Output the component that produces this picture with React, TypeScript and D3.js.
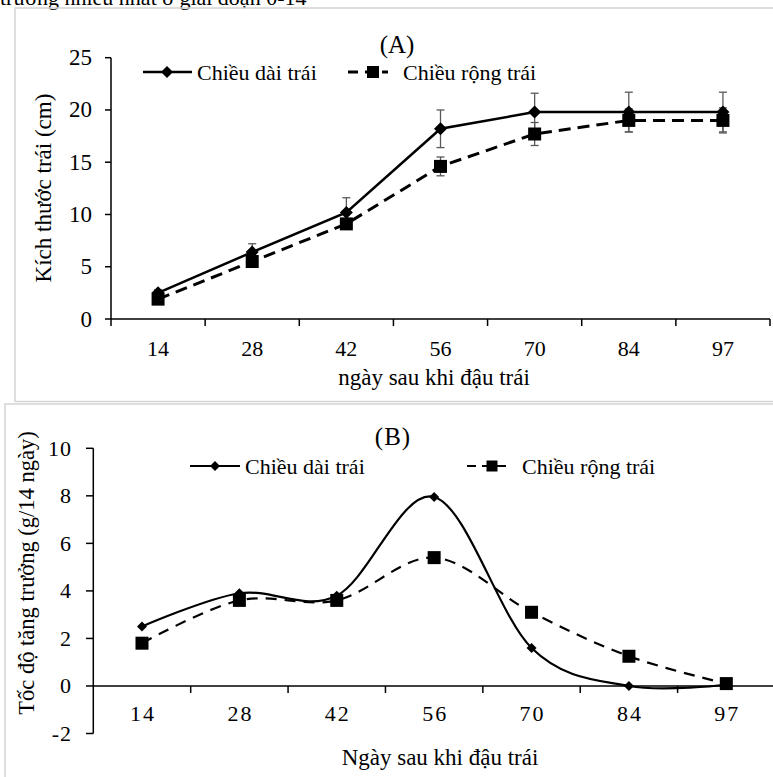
import * as d3 from "d3";

const days = ["14", "28", "42", "56", "70", "84", "97"];

// (A) fruit size, cm
const lengthA = [2.5, 6.4, 10.2, 18.2, 19.8, 19.8, 19.8];
const lengthErrA = [0.3, 0.8, 1.4, 1.8, 1.8, 1.9, 1.9];
const widthA = [1.9, 5.5, 9.1, 14.6, 17.7, 19.0, 19.0];
const widthErrA = [0.3, 0.5, 0.5, 0.9, 1.1, 1.1, 1.2];
const yTicksA = [0, 5, 10, 15, 20, 25];

// (B) growth rate
const lengthB = [2.5, 3.9, 3.8, 7.95, 1.6, 0.0, 0.05];
const widthB = [1.8, 3.6, 3.6, 5.4, 3.1, 1.25, 0.1];
const yTicksB = [-2, 0, 2, 4, 6, 8, 10];

const FONT = "'Liberation Serif', 'Times New Roman', serif";
const ERR = "#595959";

function Diamond({ x, y, r = 6 }: { x: number; y: number; r?: number }) {
  return <path d={`M${x},${y - r}L${x + r},${y}L${x},${y + r}L${x - r},${y}Z`} fill="#000" />;
}
function Square({ x, y, s = 12 }: { x: number; y: number; s?: number }) {
  return <rect x={x - s / 2} y={y - s / 2} width={s} height={s} fill="#000" />;
}

export default function App() {
  // ---- panel A
  const xA = d3.scaleBand().domain(days).range([111, 770]).padding(0);
  const yA = d3.scaleLinear().domain([0, 25]).range([319, 57.7]);
  const cxA = (d: string) => (xA(d) ?? 0) + xA.bandwidth() / 2;
  const lineA = d3
    .line<number>()
    .x((_, i) => cxA(days[i]))
    .y((v) => yA(v));

  // ---- panel B
  const xB = d3.scaleBand().domain(days).range([93.3, 775]).padding(0);
  const yB = d3.scaleLinear().domain([-2, 10]).range([733.5, 448.3]);
  const cxB = (d: string) => (xB(d) ?? 0) + xB.bandwidth() / 2;
  const lineB = d3
    .line<number>()
    .x((_, i) => cxB(days[i]))
    .y((v) => yB(v))
    .curve(d3.curveCatmullRom.alpha(0));

  const errBars = (vals: number[], errs: number[]) =>
    vals.map((v, i) => {
      const x = cxA(days[i]);
      const y1 = yA(v + errs[i]);
      const y2 = yA(v - errs[i]);
      return (
        <g key={i} stroke={ERR} strokeWidth={1.3}>
          <line x1={x} x2={x} y1={y1} y2={y2} />
          <line x1={x - 4} x2={x + 4} y1={y1} y2={y1} />
          <line x1={x - 4} x2={x + 4} y1={y2} y2={y2} />
        </g>
      );
    });

  return (
    <svg
      width={773}
      height={777}
      style={{ position: "absolute", left: 0, top: 0, display: "block", background: "#fff" }}
      fontFamily={FONT}
    >
      <text x={0} y={5} fontSize={22} fill="#000">
        trưởng nhiều nhất ở giai đoạn 0-14
      </text>

      {/* frames */}
      <rect x={15} y={8} width={770} height={393.5} fill="none" stroke="#d4d4d4" strokeWidth={1.5} />
      <rect x={5} y={404} width={780} height={390} fill="none" stroke="#d4d4d4" strokeWidth={1.5} />

      {/* ================= panel A ================= */}
      <text x={397} y={53} fontSize={25} textAnchor="middle">(A)</text>

      <g stroke="#000" strokeWidth={1.5}>
        <line x1={111} x2={111} y1={yA(25)} y2={yA(0)} />
        <line x1={111} x2={770} y1={yA(0)} y2={yA(0)} />
        {yTicksA.map((t) => (
          <line key={t} x1={105} x2={111} y1={yA(t)} y2={yA(t)} />
        ))}
        {days.map((d) => (
          <line key={d} x1={xA(d)! + xA.bandwidth()} x2={xA(d)! + xA.bandwidth()} y1={yA(0)} y2={yA(0) + 7} />
        ))}
        <line x1={111} x2={111} y1={yA(0)} y2={yA(0) + 7} />
      </g>
      {yTicksA.map((t) => (
        <text key={t} x={92} y={yA(t) + 7.5} fontSize={23} textAnchor="end">{t}</text>
      ))}
      {days.map((d) => (
        <text key={d} x={cxA(d)} y={356} fontSize={22} textAnchor="middle">{d}</text>
      ))}
      <text x={434} y={385} fontSize={23} textAnchor="middle">ngày sau khi đậu trái</text>
      <text transform="translate(51,188) rotate(-90)" fontSize={23} textAnchor="middle">
        Kích thước trái (cm)
      </text>

      {errBars(lengthA, lengthErrA)}
      {errBars(widthA, widthErrA)}
      <path d={lineA(widthA) ?? ""} fill="none" stroke="#000" strokeWidth={3} strokeDasharray="12,7" />
      <path d={lineA(lengthA) ?? ""} fill="none" stroke="#000" strokeWidth={2.5} />
      {widthA.map((v, i) => <Square key={i} x={cxA(days[i])} y={yA(v)} s={13} />)}
      {lengthA.map((v, i) => <Diamond key={i} x={cxA(days[i])} y={yA(v)} r={6.5} />)}

      {/* legend A */}
      <line x1={143} x2={192} y1={72} y2={72} stroke="#000" strokeWidth={2.5} />
      <Diamond x={167} y={72} r={6} />
      <text x={197} y={80} fontSize={22}>Chiều dài trái</text>
      <line x1={348} x2={388} y1={72} y2={72} stroke="#000" strokeWidth={3} strokeDasharray="10,7" />
      <Square x={373} y={72} s={12} />
      <text x={403} y={80} fontSize={22}>Chiều rộng trái</text>

      {/* ================= panel B ================= */}
      <text x={393} y={445} fontSize={25} textAnchor="middle" letterSpacing={1}>(B)</text>

      <g stroke="#000" strokeWidth={1.5}>
        <line x1={93.3} x2={93.3} y1={yB(10)} y2={yB(-2)} />
        <line x1={93.3} x2={775} y1={yB(0)} y2={yB(0)} />
        {yTicksB.map((t) => (
          <line key={t} x1={86} x2={93.3} y1={yB(t)} y2={yB(t)} />
        ))}
        {days.map((d) => (
          <line key={d} x1={xB(d)! + xB.bandwidth()} x2={xB(d)! + xB.bandwidth()} y1={yB(0)} y2={yB(0) + 7} />
        ))}
      </g>
      {yTicksB.map((t) => (
        <text key={t} x={72} y={yB(t) + 7.5} fontSize={22} textAnchor="end" letterSpacing={1}>{t}</text>
      ))}
      {days.map((d) => (
        <text key={d} x={cxB(d) + 1} y={721} fontSize={22} textAnchor="middle" letterSpacing={2}>{d}</text>
      ))}
      <text x={440} y={765} fontSize={23} textAnchor="middle">Ngày sau khi đậu trái</text>
      <text transform="translate(34,573) rotate(-90)" fontSize={22.5} textAnchor="middle">
        Tốc độ tăng trưởng (g/14 ngày)
      </text>

      <path d={lineB(widthB) ?? ""} fill="none" stroke="#000" strokeWidth={2.2} strokeDasharray="11,8" />
      <path d={lineB(lengthB) ?? ""} fill="none" stroke="#000" strokeWidth={2.2} />
      {widthB.map((v, i) => <Square key={i} x={cxB(days[i])} y={yB(v)} s={13} />)}
      {lengthB.map((v, i) => <Diamond key={i} x={cxB(days[i])} y={yB(v)} r={5} />)}

      {/* legend B */}
      <line x1={190} x2={240} y1={466} y2={466} stroke="#000" strokeWidth={2.2} />
      <Diamond x={215} y={466} r={5} />
      <text x={245} y={474} fontSize={22}>Chiều dài trái</text>
      <line x1={467} x2={506} y1={466} y2={466} stroke="#000" strokeWidth={2.2} strokeDasharray="9,6" />
      <Square x={492} y={466} s={11} />
      <text x={522} y={474} fontSize={22}>Chiều rộng trái</text>
    </svg>
  );
}
